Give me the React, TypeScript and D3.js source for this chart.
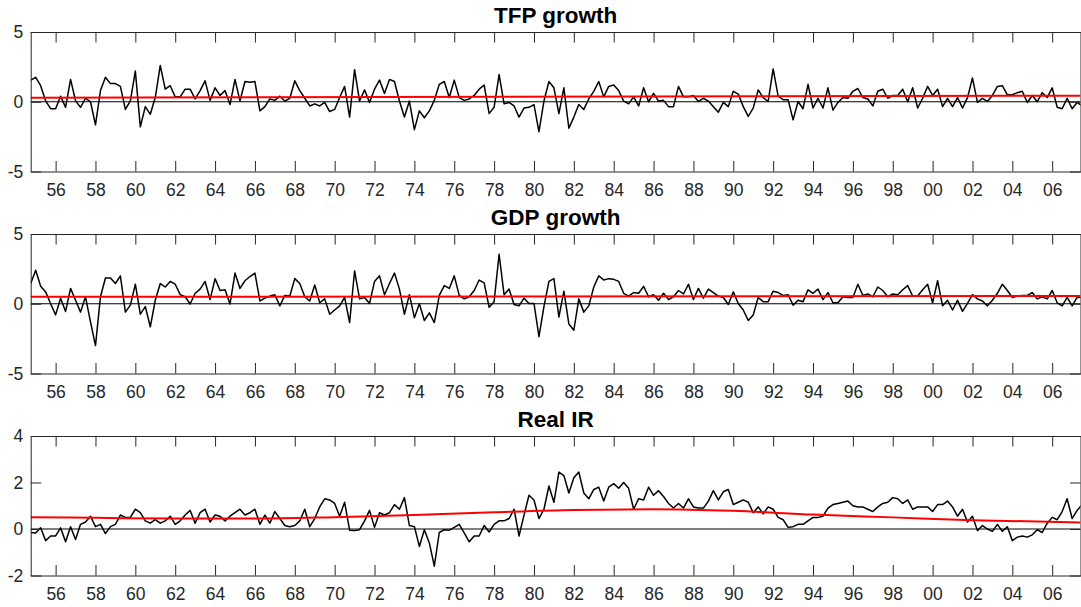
import { useEffect, useRef } from 'react';
import * as d3 from 'd3';

// quarterly data, first observation 1954Q4
const startYear = 1954.75;

const tfpGrowth = [
  1.55, 1.75, 1.15, 0.07, -0.5, -0.5, 0.4, -0.4, 1.6, 0.07,
  -0.4, 0.25, 0, -1.65, 0.8, 1.75, 1.3, 1.3, 1.1, -0.55,
  0.07, 2.2, -1.8, -0.35, -0.9, 0.3, 2.6, 0.9, 1.15, 0.35,
  0.35, 0.9, 0.9, 0.2, 0.8, 1.5, 0.1, 1.0, 0.45, 0.8,
  -0.2, 1.6, 0.05, 1.45, 1.4, 1.45, -0.65, -0.35, 0.2, 0.1,
  0.4, 0.05, 0.25, 1.5, 0.8, 0.25, -0.3, -0.15, -0.3, -0.05,
  -0.7, -0.55, 0.3, 1.1, -1.1, 2.3, 0.05, 0.85, -0.05, 0.9,
  1.55, 0.6, 1.6, 1.45, 0.05, -1.1, 0.05, -2.0, -0.65, -1.15,
  -0.65, 0.1, 1.25, 1.45, 0.3, 1.55, 0.3, 0.1, 0.2, 0.45,
  0.9, 1.2, -0.85, -0.4, 1.95, -0.15, -0.05, -0.3, -1.1, -0.45,
  -0.4, -0.2, -2.15, 0.05, 1.45, 1.0, -0.85, 1.0, -1.9, -1.1,
  -0.2, -0.55, 0.2, 0.75, 1.45, 0.35, 1.1, 1.2, 0.8, 0.05,
  -0.15, 0.35, -0.3, 1.0, 0, 0.6, 0.05, 0.1, -0.35, -0.35,
  1.1, 0.35, 0.35, 0.45, 0.02, 0.25, 0.05, -0.35, -0.75, -0.05,
  -0.35, 0.75, 0.55, -0.35, -1.05, -0.45, 0.85, 0.3, 0.02, 2.35,
  0.4, 0.15, 0.15, -1.3, 0.02, -0.5, 1.25, -0.45, 0.25, -0.45,
  1.0, -0.6, -0.05, 0.3, 0.25, 0.75, 0.95, 0.3, 0.2, -0.3,
  0.75, 0.9, 0.25, 0.45, 0.45, 0.9, 0, 1.0, -0.45, 0.25,
  1.1, 0.45, 0.9, -0.35, 0.25, -0.35, 0.3, -0.45, 0.3, 1.7,
  -0.05, 0.25, 0.02, 0.45, 1.1, 1.15, 0.5, 0.5, 0.65, 0.75,
  -0.05, 0.45, 0, 0.65, 0.3, 1.0, -0.4, -0.5, 0.25, -0.5,
  -0.05, -0.3,
];

const gdpGrowth = [
  1.45, 2.4, 1.25, 0.85, 0.0, -0.8, 0.4, -0.55, 1.1, 0.25,
  -0.6, 0.5, -1.3, -3.0, 0.5, 1.85, 1.85, 1.45, 2.0, -0.6,
  -0.1, 1.4, -0.75, -0.2, -1.65, 0.25, 1.45, 1.2, 1.6, 1.4,
  0.65, 0.5, -0.02, 0.75, 1.05, 1.6, 0.3, 1.8, 0.95, 1.0,
  -0.02, 2.2, 1.1, 1.65, 1.95, 2.2, 0.2, 0.4, 0.55, 0.65,
  -0.15, 0.6, 0.55, 1.8, 1.45, 0.5, 0.2, 1.35, 0.07, 0.35,
  -0.75, -0.45, -0.15, 0.45, -1.35, 2.35, 0.35, 0.45, 0.02, 1.6,
  2.0, 0.65, 1.45, 2.2, 1.05, -0.75, 0.65, -1.0, 0.0, -1.2,
  -0.65, -1.35, 0.6, 1.3, 1.1, 2.0, 0.6, 0.35, 0.5, 0.95,
  1.7, 1.5, -0.25, 0.15, 3.55, 0.65, 1.05, -0.05, -0.15, 0.4,
  0.02, 0.02, -2.35, -0.2, 1.6, 1.8, -0.95, 0.9, -1.45, -1.9,
  0.35, -0.6, -0.15, 1.2, 2.0, 1.7, 1.8, 1.75, 1.6, 0.75,
  0.55, 0.8, 0.75, 1.25, 0.5, 0.65, 0.25, 0.75, 0.3, 0.5,
  0.95, 0.7, 1.4, 0.3, 1.1, 0.4, 1.05, 0.8, 0.55, 0.45,
  -0.05, 0.85, 0.02, -0.45, -1.2, -0.8, 0.45, 0.15, 0.15, 0.9,
  0.8, 0.6, 0.65, -0.1, 0.25, 0.15, 1.0, 0.75, 1.05, 0.3,
  0.8, 0.07, 0.07, 0.5, 0.45, 0.45, 1.4, 0.6, 0.7, 0.5,
  1.2, 0.95, 0.5, 0.7, 0.65, 1.0, 1.3, 0.55, 0.55, 1.0,
  1.4, 0.07, 1.65, -0.15, 0.25, -0.45, 0.25, -0.55, 0.02, 0.65,
  0.35, 0.2, -0.15, 0.25, 0.75, 1.4, 0.95, 0.45, 0.55, 0.6,
  0.6, 0.8, 0.35, 0.5, 0.35, 0.95, 0.07, -0.15, 0.45, -0.15,
  0.45, 0.45,
];

const realIR = [
  -0.15, -0.17, 0.05, -0.5, -0.3, -0.3, 0.05, -0.55, 0.1, -0.45,
  0.2, 0.3, 0.55, 0.1, 0.2, -0.2, 0.1, 0.2, 0.6, 0.5,
  0.5, 0.85, 0.7, 0.35, 0.25, 0.4, 0.25, 0.35, 0.55, 0.2,
  0.35, 0.6, 0.8, 0.25, 0.7, 0.85, 0.3, 0.6, 0.55, 0.35,
  0.55, 0.7, 0.85, 0.6, 0.7, 0.85, 0.2, 0.6, 0.25, 0.75,
  0.45, 0.15, 0.1, 0.15, 0.35, 0.85, 0.1, 0.45, 0.95, 1.3,
  1.25, 1.1, 0.55, 1.15, -0.05, -0.07, -0.03, 0.35, 0.8, 0.07,
  0.7, 0.6, 0.7, 1.05, 0.85, 1.35, 0.15, 0.1, -0.75, -0.03,
  -0.6, -1.6, -0.15, -0.03, -0.05, 0.07, 0.2, -0.17, -0.55, -0.3,
  -0.3, 0.15, -0.13, 0.2, 0.35, 0.35, 0.45, 0.85, -0.3, 0.6,
  1.45, 1.25, 0.45, 0.85, 1.85, 1.15, 2.45, 2.3, 1.55, 2.2,
  2.45, 1.55, 1.3, 1.7, 1.8, 1.2, 1.8, 1.95, 1.75, 2.0,
  1.75, 0.85, 1.3, 1.25, 1.8, 1.45, 1.65, 1.4, 1.1, 0.9,
  1.1, 0.9, 1.3, 0.95, 0.9, 0.9, 1.2, 1.65, 1.25, 1.6,
  1.7, 1.05, 1.15, 1.25, 1.15, 0.7, 0.95, 0.65, 0.95, 0.85,
  0.5, 0.4, 0.07, 0.1, 0.2, 0.2, 0.35, 0.5, 0.5, 0.55,
  0.9, 1.05, 1.1, 1.15, 1.2, 1.0, 0.95, 0.95, 0.85, 0.75,
  0.95, 1.1, 1.15, 1.35, 1.3, 1.1, 1.25, 0.85, 0.95, 0.95,
  0.95, 0.75, 1.05, 1.05, 1.2, 0.95, 0.55, 0.85, 0.3, 0.55,
  -0.07, 0.15, 0.0, -0.1, 0.2, -0.1, 0.1, -0.5, -0.35, -0.3,
  -0.35, -0.25, -0.03, -0.15, 0.25, 0.5, 0.4, 0.75, 1.3, 0.45,
  0.8, 1.05,
];

// red trend lines, read at a few dates
const tfpTrendYears = [1954.75, 2007.42];
const tfpTrend = [0.29, 0.43];
const gdpTrendYears = [1954.75, 2007.42];
const gdpTrend = [0.5, 0.55];
const irTrendYears = [1954.75, 1958, 1962, 1966, 1970, 1974, 1978, 1982, 1986, 1990, 1994, 1998, 2002, 2007.42];
const irTrend = [0.51, 0.48, 0.45, 0.45, 0.51, 0.6, 0.72, 0.82, 0.85, 0.78, 0.62, 0.5, 0.38, 0.28];

const xTickYears = d3.range(1956, 2007, 2);
const xTickLabels = xTickYears.map((y) => String(y % 100).padStart(2, '0'));
const yTicksGrowth = [-5, 0, 5];
const yTicksIR = [-2, 0, 2, 4];

const panels = [
  { title: 'TFP growth', values: tfpGrowth, trendX: tfpTrendYears, trendY: tfpTrend, domain: [-5, 5], ticks: yTicksGrowth },
  { title: 'GDP growth', values: gdpGrowth, trendX: gdpTrendYears, trendY: gdpTrend, domain: [-5, 5], ticks: yTicksGrowth },
  { title: 'Real IR', values: realIR, trendX: irTrendYears, trendY: irTrend, domain: [-2, 4], ticks: yTicksIR },
];

export default function App() {
  const svgRef = useRef<SVGSVGElement>(null);

  useEffect(() => {
    if (!svgRef.current) return;
    const svg = d3.select(svgRef.current);
    svg.selectAll('*').remove();

    const width = 1081;
    const height = 607;
    const left = 30.7;
    const right = 1080.5;
    const panelTops = [32, 234, 436];
    const panelH = 139.5;
    const tick = 10.5;
    const axisColor = '#262626';
    const font = '"Liberation Sans", Arial, Helvetica, sans-serif';

    svg.attr('width', width).attr('height', height);
    svg.append('rect').attr('width', width).attr('height', height).attr('fill', '#fff');

    const x = d3.scaleLinear().domain([startYear, 2007.42]).range([left, right]);

    panels.forEach((p, k) => {
      const top = panelTops[k];
      const bottom = top + panelH;
      const y = d3.scaleLinear().domain(p.domain).range([bottom, top]);
      const g = svg.append('g');

      const clipId = `clip${k}`;
      svg
        .append('defs')
        .append('clipPath')
        .attr('id', clipId)
        .append('rect')
        .attr('x', left)
        .attr('y', top)
        .attr('width', right - left)
        .attr('height', panelH);

      const plot = g.append('g').attr('clip-path', `url(#${clipId})`);

      const line = d3
        .line<number>()
        .x((_, i) => x(startYear + i / 4))
        .y((d) => y(d));

      plot
        .append('path')
        .datum(p.values)
        .attr('fill', 'none')
        .attr('stroke', '#000')
        .attr('stroke-width', 1.5)
        .attr('stroke-linejoin', 'round')
        .attr('d', line);

      // zero line
      plot
        .append('line')
        .attr('x1', left)
        .attr('x2', right)
        .attr('y1', y(0))
        .attr('y2', y(0))
        .attr('stroke', '#000')
        .attr('stroke-width', 1.2);

      const trend = d3
        .line<number>()
        .x((_, i) => x(p.trendX[i]))
        .y((d) => y(d))
        .curve(d3.curveMonotoneX);

      plot
        .append('path')
        .datum(p.trendY)
        .attr('fill', 'none')
        .attr('stroke', '#ff0000')
        .attr('stroke-width', 2)
        .attr('d', trend);

      // axes, ticks pointing inwards
      const styleAxis = (sel: any) => {
        sel.selectAll('path.domain').attr('stroke', axisColor).attr('stroke-width', 1);
        sel.selectAll('.tick line').attr('stroke', axisColor).attr('stroke-width', 1);
        sel
          .selectAll('text')
          .attr('fill', axisColor)
          .style('font-family', font)
          .style('font-size', '17.5px');
      };

      g.append('g')
        .attr('transform', `translate(0,${bottom})`)
        .call(
          d3
            .axisBottom(x)
            .tickValues(xTickYears)
            .tickFormat((_, i) => xTickLabels[i])
            .tickSizeInner(-tick)
            .tickSizeOuter(0)
            .tickPadding(12)
        )
        .call(styleAxis);

      g.append('g')
        .attr('transform', `translate(0,${top})`)
        .call(d3.axisTop(x).tickValues(xTickYears).tickFormat(() => '').tickSizeInner(-tick).tickSizeOuter(0))
        .call(styleAxis);

      g.append('g')
        .attr('transform', `translate(${left},0)`)
        .call(
          d3
            .axisLeft(y)
            .tickValues(p.ticks)
            .tickFormat((d) => String(d))
            .tickSizeInner(-tick)
            .tickSizeOuter(0)
            .tickPadding(7.5)
        )
        .call(styleAxis);

      g.append('g')
        .attr('transform', `translate(${right},0)`)
        .call(d3.axisRight(y).tickValues(p.ticks).tickFormat(() => '').tickSizeInner(-tick).tickSizeOuter(0))
        .call(styleAxis);

      g.selectAll('text').attr('font-family', null);

      g.append('text')
        .attr('x', (left + right) / 2)
        .attr('y', top - 8.7)
        .attr('text-anchor', 'middle')
        .attr('fill', '#000')
        .style('font-family', font)
        .style('font-weight', 'bold')
        .style('font-size', '22.5px')
        .text(p.title);
    });
  }, []);

  return (
    <div style={{ position: 'absolute', left: 0, top: 0 }}>
      <svg ref={svgRef} style={{ display: 'block' }} />
    </div>
  );
}
